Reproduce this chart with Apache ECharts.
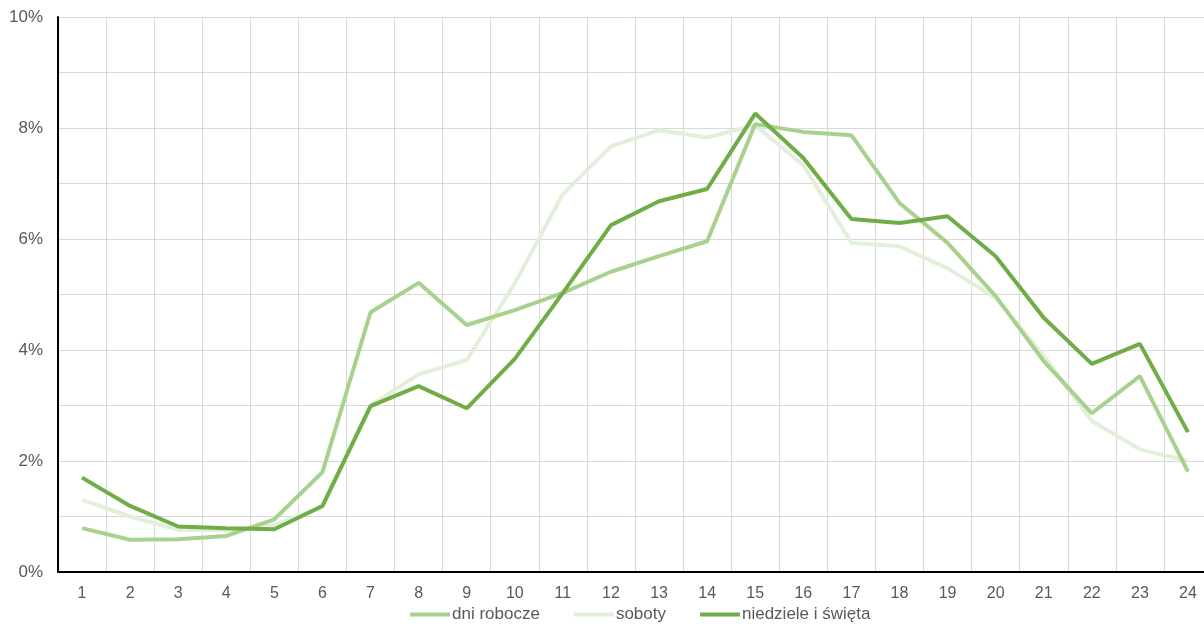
<!DOCTYPE html>
<html>
<head>
<meta charset="utf-8">
<script src="https://cdn.jsdelivr.net/npm/echarts@6/dist/echarts.min.js"></script>
<style>
  html, body { margin: 0; padding: 0; background: #ffffff; }
  #chart { width: 1204px; height: 624px; }
</style>
</head>
<body>
<div id="chart"></div>
<script>
// Hour of day (1–24)
const hours = ['1','2','3','4','5','6','7','8','9','10','11','12','13','14','15','16','17','18','19','20','21','22','23','24'];

// Share of daily traffic per hour, in percent
const dniRobocze = [0.79, 0.58, 0.59, 0.65, 0.95, 1.80, 4.68, 5.21, 4.45, 4.72, 5.03, 5.41, 5.69, 5.96, 8.07, 7.93, 7.87, 6.65, 5.93, 4.97, 3.80, 2.86, 3.53, 1.81];
const soboty = [1.30, 1.00, 0.76, 0.75, 0.85, 1.17, 3.00, 3.56, 3.82, 5.20, 6.81, 7.67, 7.96, 7.83, 8.05, 7.33, 5.93, 5.87, 5.47, 4.94, 3.90, 2.72, 2.21, 2.00];
const niedziele = [1.70, 1.19, 0.82, 0.79, 0.77, 1.19, 2.99, 3.35, 2.95, 3.84, 5.03, 6.25, 6.68, 6.90, 8.26, 7.46, 6.36, 6.29, 6.41, 5.69, 4.58, 3.75, 4.11, 2.52];

const seriesNames = ['dni robocze', 'soboty', 'niedziele i święta'];
const seriesColors = ['#A9D18E', '#E2EFDA', '#70AD47'];

const chart = echarts.init(document.getElementById('chart'));
const textColor = '#595959';
const fontFamily = '"Liberation Sans", Arial, sans-serif';

function lineSeries(name, data, color, z) {
  return {
    name: name,
    type: 'line',
    data: data,
    symbol: 'none',
    z: z,
    lineStyle: { color: color, width: 4 },
    itemStyle: { color: color }
  };
}

chart.setOption({
  animation: false,
  textStyle: { fontFamily: fontFamily },
  // plot area runs slightly past the right edge of the canvas
  grid: { left: 58, width: 1154, top: 17, height: 555, outerBoundsMode: 'none', containLabel: false },
  xAxis: {
    type: 'category',
    data: hours,
    boundaryGap: true,
    axisLine: { show: true, lineStyle: { color: '#000000', width: 2 } },
    axisTick: { show: false },
    axisLabel: { color: textColor, fontSize: 16, margin: 14, interval: 0 },
    splitLine: { show: true, interval: 0, lineStyle: { color: '#D9D9D9', width: 1 } }
  },
  yAxis: {
    type: 'value',
    min: 0,
    max: 10,
    interval: 1,
    axisLine: { show: true, lineStyle: { color: '#000000', width: 2 } },
    axisTick: { show: false },
    axisLabel: {
      color: textColor,
      fontSize: 17,
      margin: 15,
      formatter: function (v) { return v % 2 === 0 ? v + '%' : ''; }
    },
    splitLine: { show: true, lineStyle: { color: '#D9D9D9', width: 1 } }
  },
  legend: {
    data: seriesNames,
    top: 601,
    left: 405,
    icon: 'rect',
    itemWidth: 40,
    itemHeight: 4,
    itemGap: 34,
    textStyle: { color: textColor, fontSize: 17, padding: [0, 0, 0, -3] }
  },
  series: [
    lineSeries(seriesNames[0], dniRobocze, seriesColors[0], 2),
    lineSeries(seriesNames[1], soboty, seriesColors[1], 1),
    lineSeries(seriesNames[2], niedziele, seriesColors[2], 3)
  ]
});
</script>
</body>
</html>
